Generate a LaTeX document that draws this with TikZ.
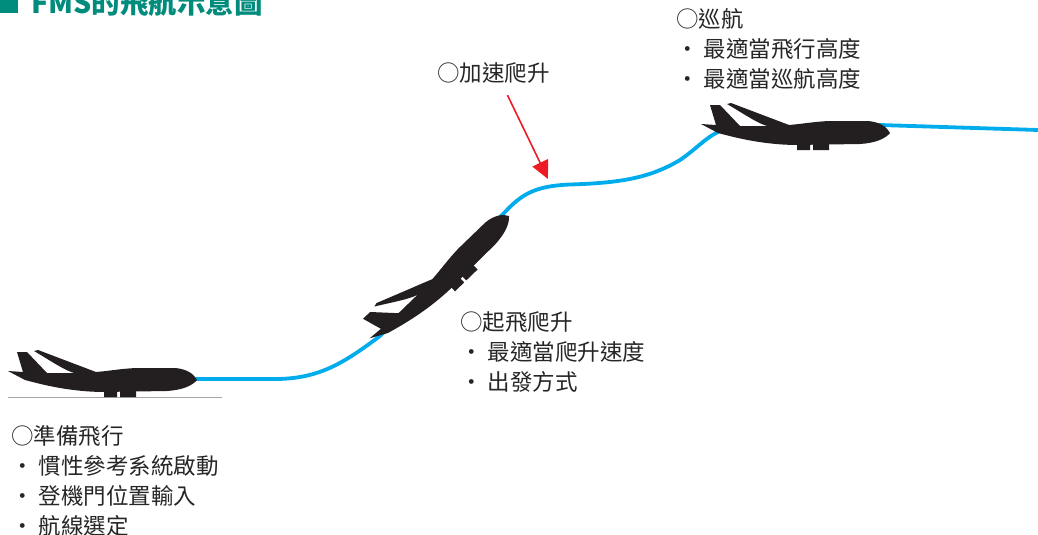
\documentclass[tikz,border=0pt]{standalone}
\usepackage{fontspec}
\setmainfont{Noto Sans CJK TC}
\usetikzlibrary{arrows.meta}
\definecolor{fmsteal}{RGB}{0,140,125}
\definecolor{flightblue}{RGB}{0,172,236}
\definecolor{arrowred}{RGB}{237,28,36}
\definecolor{planeblack}{RGB}{35,31,32}
\tikzset{
  plane/.pic={ % bóng máy bay, mũi ở (0,0)
    \fill[planeblack] (0,0) .. controls (-3,-6) and (-10,-11) .. (-22,-12)
      -- (-60,-12) .. controls (-75,-11.5) and (-88,-9) .. (-101,-8)
      -- (-159,-30) -- (-163,-29)
      .. controls (-146,-19) and (-133,-10) .. (-123,-7)
      -- (-150,-7) -- (-170,-28) -- (-180,-28) -- (-174,-8)
      -- (-189,-9) -- (-172,0)
      .. controls (-150,6) and (-125,11.5) .. (-95,12)
      -- (-30,11) .. controls (-15,10) and (-5,6) .. (0,0) -- cycle;
    \fill[planeblack] (-93,10) rectangle (-80,17) (-77,10) rectangle (-61,17);
  },
  info/.style={anchor=north west, align=left, inner sep=0pt, text=black!85,
    font=\fontsize{22.5}{30}\selectfont},
}

\begin{document}
\begin{tikzpicture}[x=1pt,y=-1pt]
  \useasboundingbox (0,0) rectangle (1038,535);
  % tiêu đề
  \node[fill=fmsteal, minimum size=18pt, inner sep=0pt, anchor=south west] (mark) at (0,13) {};
  \node[anchor=base west, inner sep=0pt, text=fmsteal, font=\bfseries\fontsize{28.5}{28.5}\selectfont] (title) at (31,14) {FMS的飛航示意圖};
  % mặt đất
  \draw[gray!70, line width=1pt] (8,397) -- (222,397);
  % đường bay
  \draw[flightblue, line width=3.8pt] (190,379) -- (275,379)
    .. controls (320,379) and (345,362) .. (380,336) -- (505,212)
    .. controls (522,194) and (535,186) .. (570,184.5)
    .. controls (620,183) and (650,178) .. (680,160)
    .. controls (695,150) and (705,138) .. (720,131) -- (880,125) -- (1038,130);
  % máy bay
  \pic at (197,380) {plane};
  \pic[rotate=44, scale=0.98] at (509,216) {plane};
  \pic at (890,133) {plane};
  % chú thích
  \node[info] (prep) at (11,425) {○準備飛行\\・ 慣性參考系統啟動\\・ 登機門位置輸入\\・ 航線選定};
  \node[info] (takeoff) at (460,311) {○起飛爬升\\・ 最適當爬升速度\\・ 出發方式};
  \node[info] (accel) at (437,62) {○加速爬升};
  \node[info] (cruise) at (676,8) {○巡航\\・ 最適當飛行高度\\・ 最適當巡航高度};
  \coordinate (climbpt) at (548,179);
  \draw[arrowred, line width=1.6pt, -{Triangle[length=18pt,width=17pt]}]
    ([xshift=14pt,yshift=-12pt]accel.south) -- (climbpt);
\end{tikzpicture}
\end{document}
